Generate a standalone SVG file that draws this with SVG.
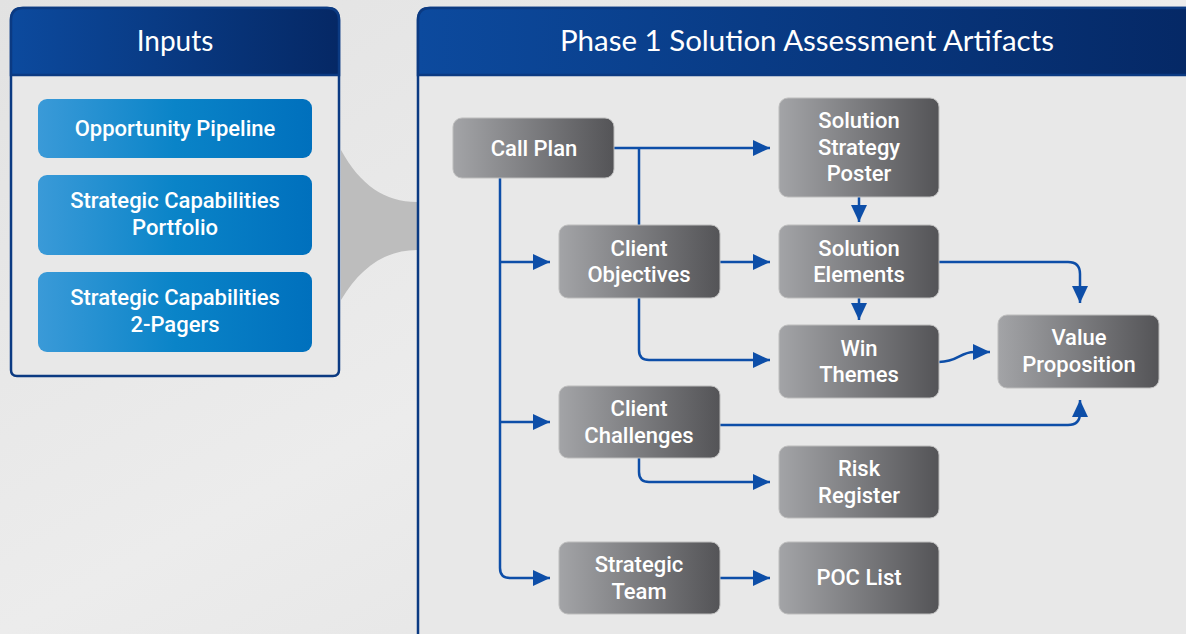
<svg xmlns="http://www.w3.org/2000/svg" width="1186" height="634" viewBox="0 0 1186 634">
<defs>
<linearGradient id="bg" x1="0" y1="0" x2="1" y2="1">
<stop offset="0" stop-color="#e2e2e2"/><stop offset="0.5" stop-color="#ececec"/><stop offset="1" stop-color="#e0e0e0"/>
</linearGradient>
<linearGradient id="hdr" x1="0" y1="0" x2="1" y2="0">
<stop offset="0" stop-color="#0c4a9e"/><stop offset="1" stop-color="#052865"/>
</linearGradient>
<linearGradient id="blue" x1="0" y1="0" x2="1" y2="0">
<stop offset="0" stop-color="#3a9ad8"/><stop offset="0.5" stop-color="#0a84c8"/><stop offset="1" stop-color="#0070bd"/>
</linearGradient>
<linearGradient id="gray" x1="0" y1="0" x2="1" y2="0">
<stop offset="0" stop-color="#a3a4a7"/><stop offset="1" stop-color="#545457"/>
</linearGradient>
<marker id="arr" markerUnits="userSpaceOnUse" markerWidth="18" markerHeight="18" refX="17" refY="8" orient="auto">
<path d="M0,0 L17,8 L0,16 z" fill="#0d4ea8"/>
</marker>
</defs>
<style>
.panel{fill:#e8e8e8;stroke:#0b3a82;stroke-width:2.5}
.hdrtxt{font-family:Lato,"Open Sans",sans-serif;font-size:28px;fill:#fff;text-anchor:middle}
.inp{fill:url(#blue)}
.inptxt{font-family:Roboto,"Liberation Sans",sans-serif;font-weight:500;font-size:22px;fill:#fff;text-anchor:middle}
.node{fill:url(#gray);stroke:#bdbdbd;stroke-width:1}
.ntxt{font-family:Roboto,"Liberation Sans",sans-serif;font-weight:500;font-size:22px;fill:#fff;text-anchor:middle}
.con{fill:none;stroke:#0d4ea8;stroke-width:2.5}
.arw{marker-end:url(#arr)}
</style>
<rect width="1186" height="634" fill="url(#bg)"/>
<path id="funnel" d="M341,150 C360,185 385,202 417,202 L417,250 C385,250 360,268 341,300 Z" fill="#bdbdbd"/>
<g id="inputs-panel">
<path class="panel" d="M11,75 V20 Q11,8 23,8 H327 Q339,8 339,20 V370 Q339,376 333,376 H17 Q11,376 11,370 Z"/>
<path d="M11,75 V20 Q11,8 23,8 H327 Q339,8 339,20 V75 Z" fill="url(#hdr)" stroke="#0b3a82" stroke-width="2.5"/>
<text class="hdrtxt" x="175" y="51">Inputs</text>
</g>
<g id="opportunity-pipeline"><rect class="inp" x="38" y="99" width="274" height="59" rx="9"/><text class="inptxt" x="175" y="136">Opportunity Pipeline</text></g>
<g id="capabilities-portfolio"><rect class="inp" x="38" y="175" width="274" height="80" rx="9"/><text class="inptxt" x="175" y="208">Strategic Capabilities</text><text class="inptxt" x="175" y="235">Portfolio</text></g>
<g id="capabilities-2pagers"><rect class="inp" x="38" y="272" width="274" height="80" rx="9"/><text class="inptxt" x="175" y="305">Strategic Capabilities</text><text class="inptxt" x="175" y="332">2-Pagers</text></g>
<g id="phase1-panel">
<path class="panel" d="M418,650 V20 Q418,8 430,8 H1200 V650 Z"/>
<path d="M418,75 V20 Q418,8 430,8 H1200 V75 Z" fill="url(#hdr)" stroke="#0b3a82" stroke-width="2.5"/>
<text class="hdrtxt" x="807" y="51" textLength="494" lengthAdjust="spacingAndGlyphs">Phase 1 Solution Assessment Artifacts</text>
</g>
<g id="connectors">
<path class="con arw" d="M614,148 H770"/>
<path class="con" d="M639,148 V225"/>
<path class="con arw" d="M639,298 V350 Q639,360 649,360 H770"/>
<path class="con arw" d="M500,178 V568 Q500,578 510,578 H550"/>
<path class="con arw" d="M500,262 H550"/>
<path class="con arw" d="M500,422 H550"/>
<path class="con arw" d="M720,262 H770"/>
<path class="con arw" d="M859,197 V222"/>
<path class="con arw" d="M859,298 V320"/>
<path class="con arw" d="M939,262 H1068 Q1080,262 1080,274 V303"/>
<path class="con arw" d="M939,362 C958,362 960,352 974,352 H990"/>
<path class="con arw" d="M720,425 H1068 Q1080,425 1080,413 V400"/>
<path class="con arw" d="M639,458 V472 Q639,482 649,482 H770"/>
<path class="con arw" d="M720,578 H770"/>
</g>
<g id="call-plan"><rect class="node" x="453" y="118" width="161" height="60" rx="9"/><text class="ntxt" x="534" y="156">Call Plan</text></g>
<g id="solution-strategy-poster"><rect class="node" x="779" y="98" width="160" height="99" rx="9"/><text class="ntxt" x="859" y="128">Solution</text><text class="ntxt" x="859" y="155">Strategy</text><text class="ntxt" x="859" y="181">Poster</text></g>
<g id="client-objectives"><rect class="node" x="559" y="225" width="161" height="73" rx="9"/><text class="ntxt" x="639" y="256">Client</text><text class="ntxt" x="639" y="282">Objectives</text></g>
<g id="solution-elements"><rect class="node" x="779" y="225" width="160" height="73" rx="9"/><text class="ntxt" x="859" y="256">Solution</text><text class="ntxt" x="859" y="282">Elements</text></g>
<g id="win-themes"><rect class="node" x="779" y="325" width="160" height="73" rx="9"/><text class="ntxt" x="859" y="356">Win</text><text class="ntxt" x="859" y="382">Themes</text></g>
<g id="value-proposition"><rect class="node" x="998" y="315" width="161" height="73" rx="9"/><text class="ntxt" x="1079" y="345">Value</text><text class="ntxt" x="1079" y="372">Proposition</text></g>
<g id="client-challenges"><rect class="node" x="559" y="386" width="161" height="72" rx="9"/><text class="ntxt" x="639" y="416">Client</text><text class="ntxt" x="639" y="443">Challenges</text></g>
<g id="risk-register"><rect class="node" x="779" y="446" width="160" height="72" rx="9"/><text class="ntxt" x="859" y="476">Risk</text><text class="ntxt" x="859" y="503">Register</text></g>
<g id="strategic-team"><rect class="node" x="559" y="542" width="161" height="72" rx="9"/><text class="ntxt" x="639" y="572">Strategic</text><text class="ntxt" x="639" y="599">Team</text></g>
<g id="poc-list"><rect class="node" x="779" y="542" width="160" height="72" rx="9"/><text class="ntxt" x="859" y="585">POC List</text></g>
</svg>
